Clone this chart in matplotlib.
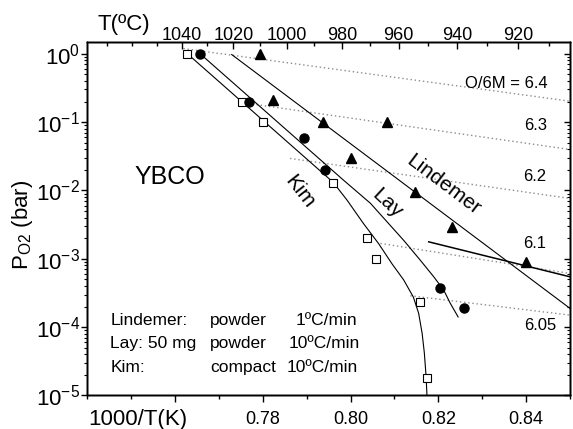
# P(O2) vs 1000/T for YBCO - Lindemer / Lay / Kim

import numpy as np
import matplotlib
matplotlib.use("Agg")
import matplotlib.pyplot as plt
from matplotlib.ticker import FixedLocator, MultipleLocator, LogLocator, NullFormatter

plt.rcParams['font.family'] = ['Liberation Sans', 'DejaVu Sans']
plt.rcParams['mathtext.fontset'] = 'custom'
plt.rcParams['mathtext.rm'] = 'Liberation Sans'
plt.rcParams['mathtext.it'] = 'Liberation Sans:italic'
plt.rcParams['axes.linewidth'] = 1.0

# Measured points (1000/T, P in bar)
kim_x = [0.7628, 0.7752, 0.7800, 0.7960, 0.8037, 0.8058, 0.8157, 0.8175]
kim_p = [1.0, 0.2, 0.1, 0.013, 0.002, 0.001, 2.3e-4, 1.8e-5]

lay_x = [0.7657, 0.7769, 0.7893, 0.7941, 0.8203, 0.8258]
lay_p = [1.0, 0.2, 0.059, 0.02, 3.8e-4, 1.9e-4]

lind_x = [0.7794, 0.7822, 0.7938, 0.8083, 0.8001, 0.8147, 0.8232, 0.8400]
lind_p = [1.0, 0.21, 0.1, 0.1, 0.030, 0.0094, 0.0029, 9.0e-4]

# Fitted curves
kim_fit_x = [0.7628, 0.7960, 0.7992, 0.8029, 0.8064, 0.8094, 0.8121, 0.8143,
             0.8155, 0.8163, 0.8168, 0.8172, 0.8174]
kim_fit_p = [1.0, 0.0132, 7.2e-3, 3.3e-3, 1.66e-3, 8.5e-4, 4.9e-4, 2.75e-4,
             1.6e-4, 8.1e-5, 4.2e-5, 1.9e-5, 1.0e-5]

lay_fit_x = [0.7657, 0.7984, 0.8045, 0.8121, 0.8159, 0.8189, 0.8212, 0.8227, 0.8245]
lay_fit_p = [1.0, 0.0141, 6.5e-3, 1.86e-3, 9.5e-4, 5.5e-4, 3.5e-4, 2.24e-4, 1.41e-4]

lind_fit_x = [0.7729, 0.8500]
lind_fit_p = [0.973, 1.88e-4]

line61_x = [0.8178, 0.8500]
line61_p = [1.77e-3, 5.45e-4]

# Iso-composition lines O/6M
iso_labels = ['O/6M = 6.4', '6.3', '6.2', '6.1', '6.05']
iso_x0 = [0.7619, 0.7748, 0.7862, 0.8068, 0.8136]
iso_p0 = [1.19, 0.195, 0.0294, 1.68e-3, 2.88e-4]
iso_x1 = [0.85, 0.85, 0.85, 0.85, 0.85]
iso_p1 = [0.202, 0.0397, 7.64e-3, 6.1e-4, 1.50e-4]
iso_lab_x = [0.8450, 0.8448, 0.8445, 0.8445, 0.8469]
iso_lab_p = [0.367, 0.0901, 0.0162, 1.68e-3, 1.07e-4]

# Top axis temperatures
t_major = [1040, 1020, 1000, 980, 960, 940, 920]
t_minor = [1070, 1060, 1050, 1030, 1010, 990, 970, 950, 930, 910]

fig = plt.figure(figsize=(5.73, 4.29), dpi=100)
ax = fig.add_axes([0.1524, 0.0781, 0.8424, 0.8247])

dot = dict(color='#8c8c8c', lw=1.0, ls=(0, (1, 2)))
for x0, p0, x1, p1 in zip(iso_x0, iso_p0, iso_x1, iso_p1):
    ax.plot([x0, x1], [p0, p1], **dot)
for lab, lx, lp in zip(iso_labels, iso_lab_x, iso_lab_p):
    ax.text(lx, lp, lab, ha='right', va='center', fontsize=12)

ax.plot(kim_fit_x, kim_fit_p, color='black', lw=0.8)
ax.plot(lay_fit_x, lay_fit_p, color='black', lw=0.8)
ax.plot(lind_fit_x, lind_fit_p, color='black', lw=0.8)
ax.plot(line61_x, line61_p, color='black', lw=1.1)

ax.plot(kim_x, kim_p, ls='none', marker='s', ms=5.5, mfc='white', mec='black', mew=0.8)
ax.plot(lay_x, lay_p, ls='none', marker='o', ms=6.5, mfc='black', mec='black')
ax.plot(lind_x, lind_p, ls='none', marker='^', ms=7.5, mfc='black', mec='black')

ax.set_yscale('log')
ax.set_xlim(0.74, 0.85)
ax.set_ylim(1e-5, 1.5)

ax.xaxis.set_major_locator(FixedLocator([0.76, 0.78, 0.80, 0.82, 0.84]))
ax.set_xticklabels(['', '0.78', '0.80', '0.82', '0.84'])
ax.xaxis.set_minor_locator(MultipleLocator(0.01))
ax.tick_params(axis='x', which='major', direction='out', length=5, width=1, labelsize=13, pad=6.5)
ax.tick_params(axis='x', which='minor', direction='out', length=3, width=1)
ax.yaxis.set_major_locator(LogLocator(base=10, numticks=10))
ax.yaxis.set_minor_locator(LogLocator(base=10, subs=np.arange(2, 10), numticks=20))
ax.yaxis.set_minor_formatter(NullFormatter())
ax.tick_params(axis='y', which='major', direction='out', length=4.5, width=1, labelsize=16, pad=1)
ax.tick_params(axis='y', which='minor', direction='out', length=2, width=0.8)

# right axis: ticks inward, no labels
ay = ax.twinx()
ay.set_yscale('log')
ay.set_ylim(ax.get_ylim())
ay.yaxis.set_major_locator(LogLocator(base=10, numticks=10))
ay.yaxis.set_minor_locator(LogLocator(base=10, subs=np.arange(2, 10), numticks=20))
ay.tick_params(axis='y', which='major', direction='in', length=4.5, width=1, labelright=False)
ay.tick_params(axis='y', which='minor', direction='in', length=2, width=0.8, labelright=False)

# top axis: temperature in C
at = ax.twiny()
at.set_xlim(ax.get_xlim())
at.set_xticks([1000.0 / (t + 273.15) for t in t_major])
at.set_xticklabels([str(t) for t in t_major])
at.set_xticks([1000.0 / (t + 273.15) for t in t_minor], minor=True)
at.tick_params(axis='x', which='major', direction='in', length=5, width=1, labelsize=13, pad=-2)
at.tick_params(axis='x', which='minor', direction='in', length=3, width=1)

# annotations
ax.text(0.7589, 0.0155, 'YBCO', ha='center', va='center', fontsize=18)
ax.text(0.8212, 0.0120, 'Lindemer', ha='center', va='center', fontsize=15,
        rotation=-37, rotation_mode='anchor')
ax.text(0.8083, 6.45e-3, 'Lay', ha='center', va='center', fontsize=15,
        rotation=-43, rotation_mode='anchor')
ax.text(0.7885, 9.5e-3, 'Kim', ha='center', va='center', fontsize=15,
        rotation=-52, rotation_mode='anchor')

leg_rows_p = [1.07e-4, 4.9e-5, 2.23e-5]
leg_col1 = ['Lindemer:', 'Lay: 50 mg', 'Kim:']
leg_col2 = ['powder', 'powder', 'compact']
leg_col3 = ['1ºC/min', '10ºC/min', '10ºC/min']
leg_col3_x = [0.7874, 0.7858, 0.7855]
for p, c1, c2, c3, x3 in zip(leg_rows_p, leg_col1, leg_col2, leg_col3, leg_col3_x):
    ax.text(0.7452, p, c1, ha='left', va='baseline', fontsize=12.5)
    ax.text(0.7680, p, c2, ha='left', va='baseline', fontsize=12.5)
    ax.text(x3, p, c3, ha='left', va='baseline', fontsize=12.5)

fig.text(0.0401, 0.4755, r'P$_{\mathregular{O2}}$ (bar)', rotation=90,
         ha='center', va='center', fontsize=16)
fig.text(0.240, 0.0233, '1000/T(K)', ha='center', va='center', fontsize=16)
fig.text(0.2168, 0.9430, 'T(ºC)', ha='center', va='center', fontsize=16)

fig.savefig('out.png', dpi=100)
